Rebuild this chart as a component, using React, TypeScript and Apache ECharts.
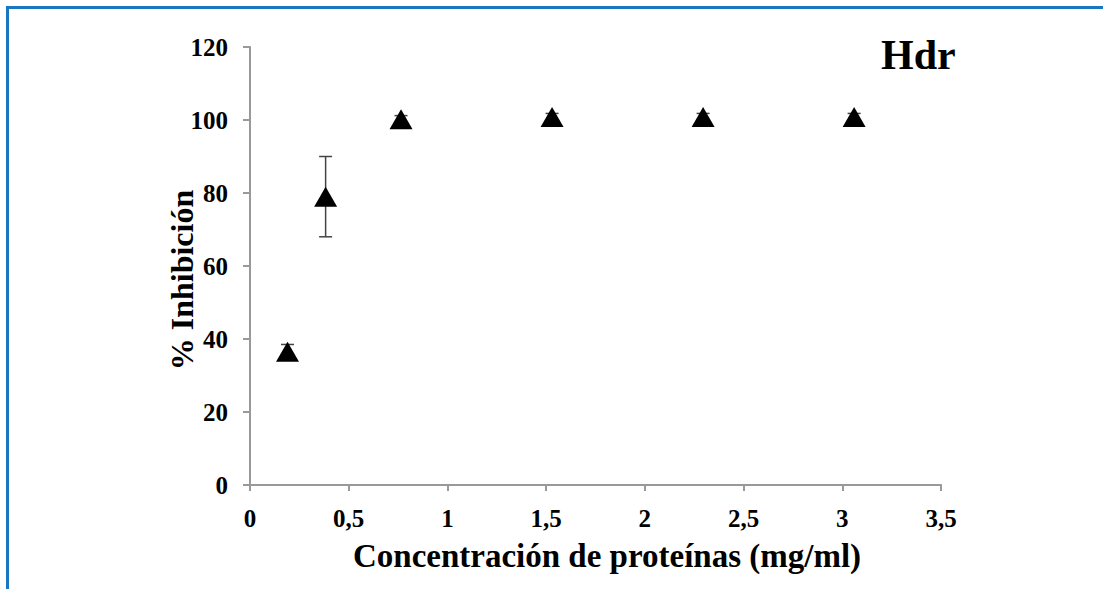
import React, { useEffect, useRef } from "react";
import * as echarts from "echarts";

const concentrations = [0.19, 0.383, 0.765, 1.53, 2.295, 3.06];
const inhibition = [36.5, 79, 100.2, 100.8, 100.8, 100.8];
const errors = [2, 11, 1, 1, 1, 1];
const xTicks = ["0", "0,5", "1", "1,5", "2", "2,5", "3", "3,5"];
const title = "Hdr";
const xName = "Concentración de proteínas (mg/ml)";
const yName = "% Inhibición";

const FONT = "'Liberation Serif', 'Times New Roman', serif";

export default function App() {
  const ref = useRef<HTMLDivElement>(null);
  useEffect(() => {
    if (!ref.current) return;
    const chart = echarts.init(ref.current, null, { renderer: "svg" });
    const points = concentrations.map((x, i) => [x, inhibition[i]]);
    const errData = concentrations.map((x, i) => [x, inhibition[i] - errors[i], inhibition[i] + errors[i]]);
    chart.setOption({
      animation: false,
      backgroundColor: "#ffffff",
      grid: { left: 250, right: 162, top: 47, bottom: 104 },
      xAxis: {
        type: "value",
        min: 0,
        max: 3.5,
        interval: 0.5,
        splitLine: { show: false },
        axisLine: { lineStyle: { color: "#999999", width: 2 } },
        axisTick: { show: true, length: 6, lineStyle: { color: "#999999", width: 2 } },
        axisLabel: {
          margin: 21,
          color: "#000",
          fontFamily: FONT,
          fontWeight: "bold",
          fontSize: 25,
          formatter: (v: number) => xTicks[Math.round(v / 0.5)] ?? "",
        },
      },
      yAxis: {
        type: "value",
        min: 0,
        max: 120,
        interval: 20,
        splitLine: { show: false },
        axisLine: { show: true, lineStyle: { color: "#999999", width: 2 } },
        axisTick: { show: true, length: 7, lineStyle: { color: "#999999", width: 2 } },
        axisLabel: {
          margin: 22,
          color: "#000",
          fontFamily: FONT,
          fontWeight: "bold",
          fontSize: 25,
        },
      },
      graphic: [
        { type: "line", shape: { x1: 6, y1: 7.5, x2: 1103, y2: 7.5 }, style: { stroke: "#1a76c0", lineWidth: 3 } },
        { type: "line", shape: { x1: 7.5, y1: 6, x2: 7.5, y2: 589 }, style: { stroke: "#1a76c0", lineWidth: 3 } },
        {
          type: "text",
          left: 881,
          top: 34,
          style: { text: title, fontFamily: FONT, fontWeight: "bold", fontSize: 42, fill: "#000" },
        },
        {
          type: "text",
          x: 607,
          y: 556,
          style: {
            text: xName,
            fontFamily: FONT,
            fontWeight: "bold",
            fontSize: 33,
            fill: "#000",
            align: "center",
            verticalAlign: "middle",
          },
        },
        {
          type: "text",
          x: 182,
          y: 280,
          rotation: Math.PI / 2,
          style: {
            text: yName,
            fontFamily: FONT,
            fontWeight: "bold",
            fontSize: 32,
            fill: "#000",
            align: "center",
            verticalAlign: "middle",
          },
        },
      ],
      series: [
        {
          type: "custom",
          data: errData,
          z: 1,
          renderItem: (params: any, api: any) => {
            const x = api.value(0);
            const lo = api.coord([x, api.value(1)]);
            const hi = api.coord([x, api.value(2)]);
            const cw = 6.5;
            const style = { stroke: "#444444", lineWidth: 1.5 };
            return {
              type: "group",
              children: [
                { type: "line", shape: { x1: lo[0], y1: lo[1], x2: hi[0], y2: hi[1] }, style },
                { type: "line", shape: { x1: hi[0] - cw, y1: hi[1], x2: hi[0] + cw, y2: hi[1] }, style },
                { type: "line", shape: { x1: lo[0] - cw, y1: lo[1], x2: lo[0] + cw, y2: lo[1] }, style },
              ],
            };
          },
        },
        {
          type: "scatter",
          data: points,
          z: 3,
          symbol: "triangle",
          symbolSize: [23, 20],
          itemStyle: { color: "#000000", opacity: 1 },
        },
      ],
    });
    return () => chart.dispose();
  }, []);
  return (
    <div
      ref={ref}
      style={{ position: "fixed", left: 0, top: 0, width: 1103, height: 589, background: "#fff" }}
    />
  );
}
